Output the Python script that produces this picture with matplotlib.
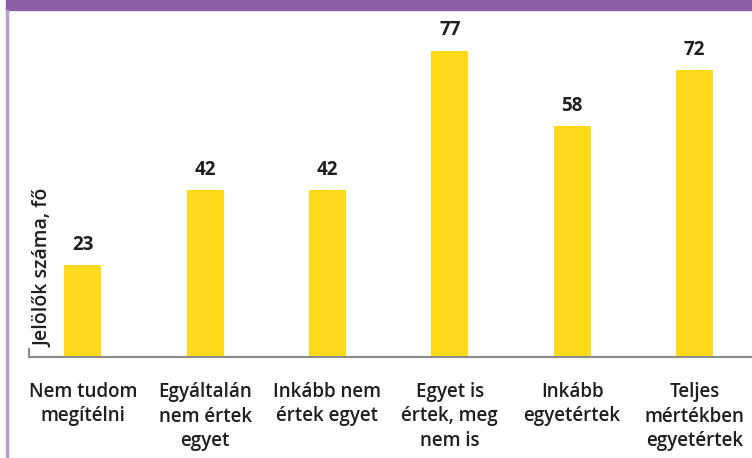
import matplotlib
matplotlib.use("Agg")
import matplotlib.pyplot as plt
from matplotlib.patches import Rectangle

categories = ["Nem tudom\nmegítélni", "Egyáltalán\nnem értek\negyet", "Inkább nem\nértek egyet",
              "Egyet is\nértek, meg\nnem is", "Inkább\negyetértek", "Teljes\nmértékben\negyetértek"]
values = [23, 42, 42, 77, 58, 72]
ylabel = "Jelölők száma, fő"

W, H = 752, 458
fig = plt.figure(figsize=(W / 100, H / 100), dpi=100)
fig.patch.set_facecolor("white")

# decorative frame
fig.patches.append(Rectangle((6 / W, (H - 10) / H), 1, 10 / H, transform=fig.transFigure,
                             color="#8B5FA7", zorder=0))
fig.patches.append(Rectangle((6 / W, 0), 2 / W, (H - 10) / H, transform=fig.transFigure,
                             color="#B89CCF", zorder=0))

ax_l, ax_b, ax_t = 29, 357, 10
ax = fig.add_axes([ax_l / W, (H - ax_b) / H, (W - ax_l) / W, (ax_b - ax_t) / H])
ax.set_facecolor("none")

x = list(range(len(values)))
bars = ax.bar(x, values, width=0.30, color="#FFDA1A", zorder=2)
ax.set_xlim(-0.44, 5.47)
ax.set_ylim(0, 87.2)

font = "Open Sans"
for xi, v in zip(x, values):
    ax.text(xi, v + 2.6, str(v), ha="center", va="bottom", fontsize=13.5,
            fontweight="bold", family=font, color="#1e1e1e")

ax.set_xticks(x)
ax.set_xticklabels(categories, fontsize=13.5, fontweight="semibold", family=font,
                   color="#1e1e1e", linespacing=1.3, va="top")
ax.tick_params(axis="x", length=0, pad=18)
ax.set_yticks([])

for s in ["top", "right"]:
    ax.spines[s].set_visible(False)
ax.spines["bottom"].set_color("#8a8a8a")
ax.spines["bottom"].set_linewidth(1.5)
ax.spines["left"].set_color("#8a8a8a")
ax.spines["left"].set_linewidth(1.5)
ax.spines["left"].set_bounds(0, 2)

fig.text(44 / W, (H - 268) / H, ylabel, rotation=90, ha="center", va="center",
         fontsize=14, fontweight="semibold", family=font, color="#1e1e1e")

fig.savefig("out.png", dpi=100)
